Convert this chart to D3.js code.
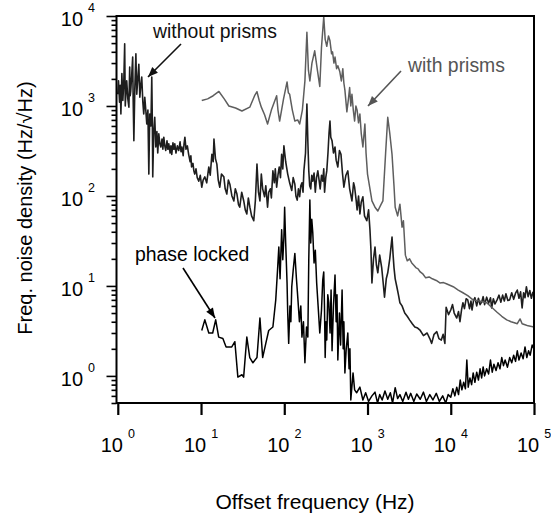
<!DOCTYPE html>
<html>
<head>
<meta charset="utf-8">
<script src="https://cdn.jsdelivr.net/npm/d3@7"></script>
<style>
body { margin: 0; background: #fff; }
svg { display: block; }
text { font-family: "Liberation Sans", Arial, sans-serif; }
</style>
</head>
<body>
<svg id="chart"></svg>
<script>
/* values: [offset frequency Hz, noise density Hz/sqrt(Hz)] */
var withoutPrisms = [
    [1.0,1350],[1.02,1900],[1.05,1100],[1.07,1700],[1.09,815],[1.11,1600],[1.12,2300],[1.15,1150],
    [1.18,1800],[1.21,4900],[1.23,1000],[1.25,1350],[1.28,1900],[1.32,1200],[1.36,970],[1.39,2700],
    [1.41,1300],[1.43,1450],[1.47,2200],[1.51,3500],[1.53,1200],[1.56,410],[1.6,1500],[1.65,3800],
    [1.69,1350],[1.74,2000],[1.79,2900],[1.84,1250],[1.89,1700],[1.94,2100],[2.0,1100],[2.05,815],
    [2.11,1250],[2.17,900],[2.23,630],[2.3,900],[2.36,175],[2.42,815],[2.5,600],[2.56,2100],
    [2.6,700],[2.63,163],[2.7,500],[2.78,750],[2.86,350],[2.95,520],[3.02,300],[3.11,490],
    [3.2,380],[3.29,350],[3.4,430],[3.48,330],[3.57,450],[3.67,360],[3.77,320],[3.9,410],
    [4.0,330],[4.1,380],[4.25,300],[4.35,360],[4.45,290],[4.6,390],[4.72,330],[4.84,380],
    [5.0,300],[5.2,360],[5.4,320],[5.6,400],[5.75,310],[5.9,350],[6.1,280],[6.25,380],[6.4,450],
    [6.6,330],[6.85,360],[7.1,290],[7.4,240],[7.55,280],[7.7,210],[8.0,230],[8.2,190],[8.4,175],
    [8.7,200],[9.0,160],[9.4,146],[9.8,170],[10.2,125],[10.6,150],[11.1,163],[11.7,140],
    [12.4,210],[12.9,170],[13.5,290],[14.0,240],[14.3,430],[14.9,260],[15.5,226],[16.1,150],
    [16.8,125],[17.6,175],[18.8,163],[19.5,120],[20.4,105],[21.3,150],[22.2,135],[23.5,100],
    [24.8,88],[25.8,120],[27,105],[28.2,80],[29.2,75],[30.8,110],[32.6,88],[34,70],[35.5,63],
    [37,95],[38.6,75],[40.5,60],[43,53],[45,90],[47,226],[49,110],[51,88],[53,175],[55,120],
    [58,98],[60,130],[63,75],[65,110],[68,120],[70,95],[73,190],[76,140],[78,200],[81,125],
    [84,170],[87,210],[90,160],[93,290],[96,200],[99,360],[104,240],[110,175],[116,140],
    [123,115],[128,160],[134,135],[138,100],[143,90],[148,120],[153,98],[158,130],[163,140],
    [168,110],[172,190],[180,300],[187,1050],[192,400],[197,190],[202,130],[208,120],[214,170],
    [220,146],[228,180],[236,110],[244,160],[253,190],[262,150],[270,120],[280,170],[290,146],
    [298,200],[305,110],[315,160],[324,190],[335,300],[345,500],[354,680],[362,450],[375,410],
    [390,300],[407,350],[420,250],[440,210],[460,320],[480,290],[500,180],[520,125],[550,170],
    [580,190],[610,120],[650,88],[680,140],[700,125],[730,90],[750,70],[780,100],[810,63],
    [840,85],[880,98],[920,60],[980,53],[1030,70],[1070,42],[1100,25],[1130,10.8],[1180,20],
    [1230,27],[1280,17],[1330,14],[1400,22],[1480,16],[1540,11],[1600,7.5],[1680,12],[1750,14],
    [1850,20],[1970,35],[2030,22],[2080,16],[2150,12],[2250,9.8],[2350,8],[2450,6.5],[2600,6.0],
    [2800,5.0],[3000,4.6],[3200,4.2],[3450,3.8],[3700,3.5],[4000,3.4],[4300,3.2],[4700,2.8],
    [5200,3.0],[5600,2.6],[5900,2.3],[6300,2.9],[6800,3.1],[7200,2.6],[7700,2.5],[8100,2.9],
    [8500,2.3],[8800,5.8],[9400,4.8],[10000,5.4],[10500,6.2],[11000,5.0],[11800,4.4],[12400,5.2],
    [12900,4.0],[13500,5.5],[14000,6.5],[14600,5.6],[15300,7.2],[16000,7.0],[16800,5.6],
    [17500,6.8],[18000,5.4],[18800,6.9],[19500,7.4],[20500,6.0],[21500,7.3],[22500,6.2],
    [23500,6.6],[24500,7.6],[25500,6.2],[27000,7.5],[28500,6.4],[30000,7.4],[31000,5.7],
    [32500,7.2],[34000,6.3],[36000,7.0],[38000,7.9],[40000,6.6],[42000,7.9],[44000,6.8],
    [46000,8.2],[48500,6.9],[51000,7.0],[54000,8.4],[57000,7.1],[60000,8.3],[63000,9.0],
    [66000,7.3],[69000,8.6],[72000,5.7],[75000,8.4],[78000,7.4],[81000,9.8],[85000,7.6],
    [89000,8.9],[93000,7.3],[97000,8.5],[100000,8.0]
];

var withPrisms = [
    [10.2,1150],[12,1200],[14,1300],[16.4,1450],[19,1200],[21.6,1000],[26,950],[31,880],
    [38.5,970],[44,1300],[47,1440],[50,1150],[53,970],[58,800],[63,630],[70,900],[81,1300],
    [84,900],[88,680],[98,1200],[108,1850],[112,1400],[116,1350],[125,900],[134,680],[145,700],
    [153,630],[165,900],[177,1900],[187,6600],[195,2500],[203,1900],[215,3000],[232,4100],
    [250,2500],[267,1650],[280,4500],[298,9800],[310,5500],[324,4600],[340,6000],[354,5300],
    [370,3800],[380,4000],[395,3000],[407,3500],[425,2600],[440,2800],[465,2400],[485,1900],
    [505,2600],[520,1800],[535,1500],[565,860],[590,1200],[610,1600],[630,1000],[650,1350],
    [675,900],[700,680],[725,1000],[750,900],[780,650],[810,815],[840,500],[880,350],[930,630],
    [960,300],[1000,175],[1070,120],[1130,88],[1230,75],[1330,68],[1450,80],[1530,88],
    [1650,300],[1750,750],[1850,500],[1970,290],[2080,130],[2150,75],[2300,60],[2450,81],
    [2600,45],[2700,53],[2850,22],[3000,19],[3200,20],[3400,18],[3600,17],[3800,16],[4050,15.5],
    [4300,14.3],[4650,13.5],[5000,12.3],[5500,12.6],[6000,12],[6700,11.5],[7400,10.8],
    [8200,10.9],[9000,10.5],[10700,9.8],[12300,9.0],[14000,8.4],[16000,7.8],[18500,7.0],
    [22000,6.8],[27000,6.5],[31000,5.8],[36000,5.1],[41000,4.6],[47000,4.2],[53000,4.0],
    [58000,3.9],[63000,3.8],[68000,4.3],[72000,3.8],[78000,3.7],[85000,3.6],[100000,3.5]
];

var phaseLocked = [
    [10.2,3.2],[11.1,4.2],[12.4,3.0],[13.8,3.0],[15,4.2],[16.3,2.7],[18.3,2.6],[20,2.1],
    [23.4,2.1],[25.5,2.4],[27.7,0.97],[31,1.03],[32.5,0.97],[35.5,2.7],[38.5,1.6],[42,1.4],
    [47,1.6],[51,4.4],[55,1.6],[60,2.3],[65,3.2],[73,3.5],[79,7.0],[83,15],[86,27],[89,12],
    [93,42],[96,19.5],[99,35],[101,75],[104,30],[108,10.8],[110,5],[113,2.3],[117,6],[120,4],
    [123,9.8],[128,15],[134,23],[140,12],[146,7.0],[152,4],[158,6],[163,2.7],[170,4],[177,1.4],
    [185,3.5],[192,2.7],[197,20],[203,90],[208,30],[214,55],[220,39],[228,18],[236,25],
    [245,10.8],[255,6],[267,3.0],[280,5.4],[290,11.7],[298,14.3],[304,6],[310,1.6],[317,4],
    [324,2.5],[333,8],[343,6.5],[355,3],[365,9],[375,1.9],[390,6],[407,13.2],[420,4],[430,8],
    [440,1.5],[460,5],[475,2.2],[495,9.0],[510,2],[520,4],[535,1.08],[555,2],[580,3.0],
    [600,1.2],[615,2.0],[630,0.54],[670,1.08],[700,0.7],[740,0.65],[810,0.75],[880,0.54],
    [950,0.65],[1030,0.52],[1130,0.6],[1230,0.66],[1320,0.5],[1400,0.62],[1500,0.54],
    [1620,0.68],[1750,0.55],[1880,0.65],[2000,0.5],[2150,0.74],[2300,0.56],[2450,0.62],
    [2650,0.52],[2900,0.66],[3100,0.55],[3300,0.64],[3600,0.52],[3900,0.63],[4300,0.55],
    [4700,0.66],[5100,0.52],[5600,0.62],[6100,0.54],[6700,0.64],[7300,0.52],[8000,0.6],
    [8700,0.5],[9300,0.62],[10000,0.58],[10600,0.72],[11200,0.6],[11800,0.75],[12400,0.62],
    [13000,0.9],[13600,0.7],[14300,0.85],[15000,0.72],[15600,1.5],[16200,0.75],[17000,0.95],
    [17800,0.8],[18600,1.08],[19500,0.85],[20500,1.1],[21500,0.9],[22500,1.2],[23500,0.95],
    [24500,1.26],[25500,1.0],[27000,1.2],[28500,1.05],[30000,1.5],[31500,1.1],[33000,1.35],
    [35000,1.15],[37000,1.4],[39000,1.2],[41000,1.6],[43000,1.3],[45000,1.5],[48000,1.25],
    [51000,1.6],[54000,1.4],[57000,1.7],[60000,1.45],[63000,1.9],[66000,1.5],[70000,1.8],
    [74000,1.55],[78000,2.1],[82000,1.6],[86000,1.9],[90000,1.7],[95000,2.2],[100000,2.0]
];

var xDecades = [1, 10, 100, 1000, 10000, 100000];
var yDecades = [1, 10, 100, 1000, 10000];

/* layout */
var svgPar = {svgWidth: 551, svgHeight: 515, svgColor: '#fff'};
var plot = {left: 116.5, right: 534, top: 16, bottom: 403};

var svg = d3.select('svg#chart')
    .attr('width', svgPar.svgWidth)
    .attr('height', svgPar.svgHeight)
    .style('background', svgPar.svgColor);

var x = d3.scaleLog().domain([0.965, 1e5]).range([plot.left, plot.right]);
var y = d3.scaleLog().domain([0.5, 1e4]).range([plot.bottom, plot.top]);

/* clip for the traces */
svg.append('clipPath').attr('id', 'plotClip')
    .append('rect')
    .attr('x', plot.left).attr('y', plot.top)
    .attr('width', plot.right - plot.left)
    .attr('height', plot.bottom - plot.top);

var line = d3.line()
    .x(d => x(d[0]))
    .y(d => y(d[1]));

var traces = [
    {data: withoutPrisms, color: '#1e1e1e', width: 1.6},
    {data: phaseLocked, color: '#000', width: 1.5},
    {data: withPrisms, color: '#5e5e5e', width: 1.5}
];

svg.append('g')
    .attr('clip-path', 'url(#plotClip)')
    .selectAll('path.trace')
    .data(traces)
    .enter()
    .append('path')
    .attr('class', 'trace')
    .attr('d', d => line(d.data))
    .attr('fill', 'none')
    .attr('stroke', d => d.color)
    .attr('stroke-width', d => d.width)
    .attr('stroke-linejoin', 'round');

/* y axis: long ticks at decades, short ones in between */
var isDecade = v => Math.abs(Math.log10(v) - Math.round(Math.log10(v))) < 1e-6;
var yMinor = y.ticks().filter(v => !isDecade(v));

var yAxisMajor = d3.axisLeft(y).tickValues(yDecades).tickSize(10).tickFormat('');
var yAxisMinor = d3.axisLeft(y).tickValues(yMinor).tickSize(5).tickFormat('');
var xAxis = d3.axisBottom(x).tickValues(xDecades).tickSize(12).tickFormat('');

[yAxisMajor, yAxisMinor].forEach(function(ax){
    svg.append('g')
        .attr('transform', `translate(${plot.left},0)`)
        .call(ax)
        .call(g => g.select('.domain').remove())
        .selectAll('line').attr('stroke', '#000').attr('stroke-width', 1.6);
});

svg.append('g')
    .attr('transform', `translate(0,${plot.bottom})`)
    .call(xAxis)
    .call(g => g.select('.domain').remove())
    .selectAll('line').attr('stroke', '#000').attr('stroke-width', 2.2);

/* frame */
svg.append('rect')
    .attr('x', plot.left).attr('y', plot.top)
    .attr('width', plot.right - plot.left)
    .attr('height', plot.bottom - plot.top)
    .attr('fill', 'none')
    .attr('stroke', '#000')
    .attr('stroke-width', 2);

/* tick labels 10^n */
function powerLabel(sel){
    sel.append('tspan').text('10');
    sel.append('tspan')
        .attr('dx', 5)
        .attr('dy', -14)
        .attr('font-size', 12.5)
        .text(d => Math.round(Math.log10(d)));
}

svg.selectAll('text.xtick')
    .data(xDecades)
    .enter()
    .append('text')
    .attr('class', 'xtick')
    .attr('x', d => x(d))
    .attr('y', 452)
    .attr('text-anchor', 'middle')
    .attr('font-size', 20)
    .call(powerLabel);

svg.selectAll('text.ytick')
    .data(yDecades)
    .enter()
    .append('text')
    .attr('class', 'ytick')
    .attr('x', 95)
    .attr('y', d => y(d) + 10)
    .attr('text-anchor', 'end')
    .attr('font-size', 20)
    .call(powerLabel);

/* axis titles */
svg.append('text')
    .attr('x', 315)
    .attr('y', 509)
    .attr('text-anchor', 'middle')
    .attr('font-size', 21)
    .text('Offset frequency (Hz)');

svg.append('text')
    .attr('transform', 'translate(32,208) rotate(-90)')
    .attr('text-anchor', 'middle')
    .attr('font-size', 20)
    .text('Freq. noise density (Hz/\u221AHz)');

/* annotations with arrows */
var notes = [
    {text: 'without prisms', tx: 153, ty: 37.5, from: [181, 44], to: [148, 77], color: '#111'},
    {text: 'with prisms', tx: 408, ty: 72, from: [401, 71], to: [368, 106], color: '#555'},
    {text: 'phase locked', tx: 135, ty: 261, from: [183, 268], to: [215, 318], color: '#000'}
];

var noteG = svg.selectAll('g.note')
    .data(notes)
    .enter()
    .append('g')
    .attr('class', 'note');

noteG.append('text')
    .attr('x', d => d.tx)
    .attr('y', d => d.ty)
    .attr('font-size', 19.4)
    .attr('fill', d => d.color)
    .text(d => d.text);

noteG.append('line')
    .attr('x1', d => d.from[0]).attr('y1', d => d.from[1])
    .attr('x2', d => d.to[0]).attr('y2', d => d.to[1])
    .attr('stroke', d => d.color)
    .attr('stroke-width', 1.6);

noteG.append('path')
    .attr('d', function(d){
        var ang = Math.atan2(d.to[1] - d.from[1], d.to[0] - d.from[0]);
        var len = 10, half = 4;
        var bx = d.to[0] - len * Math.cos(ang), by = d.to[1] - len * Math.sin(ang);
        var px = -Math.sin(ang) * half, py = Math.cos(ang) * half;
        return `M${d.to[0]},${d.to[1]}L${bx + px},${by + py}L${bx - px},${by - py}Z`;
    })
    .attr('fill', d => d.color);
</script>
</body>
</html>
